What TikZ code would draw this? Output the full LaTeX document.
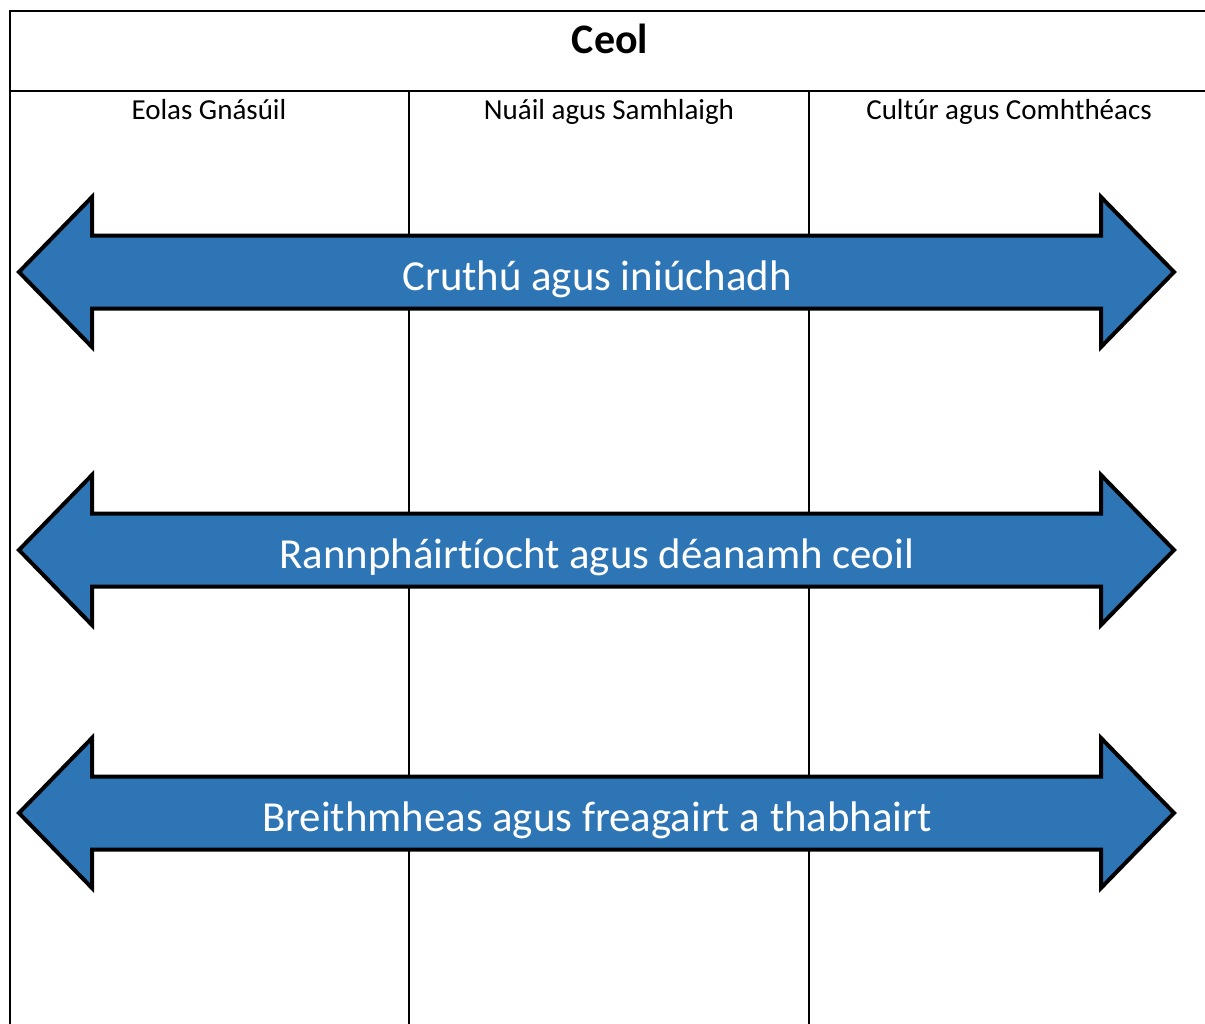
\documentclass[tikz,border=0pt]{standalone}
\usepackage{fontspec}
\setmainfont[Ligatures=NoCommon]{Carlito}
\definecolor{bandblue}{HTML}{2E75B6}
\tikzset{
  rule/.style={line width=2pt},
  band/.style={draw=black, line width=4pt, fill=bandblue, line join=miter},
  bandtext/.style={text=white, font=\fontsize{42.8}{50}\selectfont, anchor=base},
  headtext/.style={font=\fontsize{29}{35}\selectfont, anchor=base},
}
\begin{document}
\begin{tikzpicture}[x=1pt, y=-1pt]
 \useasboundingbox (0,0) rectangle (1205,1023);
 % table
 \draw[rule] (1212,11) -- (10,11) -- (10,1030);
 \draw[rule] (10,91) -- (1212,91);
 \draw[rule] (409,91) -- (409,1030) (809,91) -- (809,1030);
 \node[font=\bfseries\fontsize{42}{50}\selectfont, anchor=base] (title) at (610,53) {Ceol};
 \node[headtext] (colA) at (209,119) {Eolas Gnásúil};
 \node[headtext] (colB) at (609,119) {Nuáil agus Samhlaigh};
 \node[headtext] (colC) at (1009,119) {Cultúr agus Comhthéacs};
 % double arrows
 \foreach \y/\txt [count=\i] in {272/Cruthú agus iniúchadh, 550/Rannpháirtíocht agus déanamh ceoil, 813/Breithmheas agus freagairt a thabhairt}{
   \draw[band] (19,\y) -- (92,\y-75) -- (92,\y-36.5) -- (1101,\y-36.5) -- (1101,\y-75) -- (1174,\y) -- (1101,\y+75) -- (1101,\y+36.5) -- (92,\y+36.5) -- (92,\y+75) -- cycle;
   \node[bandtext] (band\i) at (597,\y+18) {\txt};
 }
\end{tikzpicture}
\end{document}
